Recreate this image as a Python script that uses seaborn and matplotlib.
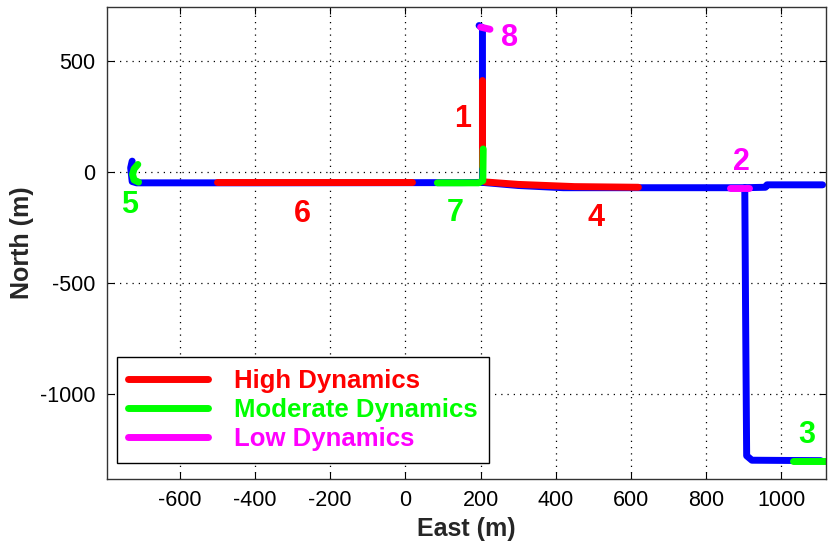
import numpy as np
import pandas as pd
import seaborn as sns
from matplotlib import pyplot as plt
from matplotlib.lines import Line2D

# trajectory (blue), east / north in metres
north_branch_east = [196, 205, 205, 205, 150, -400, -715, -727, -731, -727]
north_branch_north = [662, 652, 300, -46, -47, -48, -48, -42, 20, 50]
east_branch_east = [205, 300, 420, 900, 958, 962, 1110]
east_branch_north = [-46, -60, -70, -70, -68, -57, -57]
south_branch_east = [903, 905, 908, 922, 1105]
south_branch_north = [-70, -600, -1280, -1300, -1302]

# high dynamics (red)
high_1_east = [203, 203]
high_1_north = [415, 30]
high_4_east = [212, 300, 450, 620]
high_4_north = [-44, -55, -65, -68]
high_6_east = [-500, 18]
high_6_north = [-46, -46]

# moderate dynamics (green)
mod_7_east = [85, 195, 206, 207]
mod_7_north = [-48, -48, -38, 105]
mod_5_east = [-712, -722, -726, -722, -710]
mod_5_north = [35, 15, -10, -35, -45]
mod_3_east = [1032, 1118]
mod_3_north = [-1302, -1302]

# low dynamics (magenta)
low_8_east = [200, 225]
low_8_north = [655, 645]
low_2_east = [865, 915]
low_2_north = [-72, -72]

# segment labels
label_text = ["1", "2", "3", "4", "5", "6", "7", "8"]
label_east = [152, 894, 1069, 508, -734, -274, 133, 277]
label_north = [240, 45, -1185, -205, -150, -188, -182, 605]
label_color = ["red", "magenta", "lime", "red", "lime", "red", "lime", "magenta"]

legend_names = ["High Dynamics", "Moderate Dynamics", "Low Dynamics"]
legend_colors = ["red", "lime", "magenta"]

sns.set_style("white")
plt.rcParams["font.family"] = ["Liberation Sans", "DejaVu Sans"]
plt.rcParams["axes.unicode_minus"] = False

fig, ax = plt.subplots(figsize=(8.33, 5.5), dpi=100)
fig.subplots_adjust(left=0.128, right=0.992, top=0.987, bottom=0.129)


def draw(east, north, color):
    df = pd.DataFrame({"east": east, "north": north})
    sns.lineplot(data=df, x="east", y="north", sort=False, estimator=None,
                 color=color, linewidth=5, ax=ax,
                 solid_capstyle="round", solid_joinstyle="round")


blue = "#0000ff"
draw(north_branch_east, north_branch_north, blue)
draw(east_branch_east, east_branch_north, blue)
draw(south_branch_east, south_branch_north, blue)

draw(high_1_east, high_1_north, "red")
draw(high_4_east, high_4_north, "red")
draw(high_6_east, high_6_north, "red")

draw(mod_7_east, mod_7_north, "lime")
draw(mod_5_east, mod_5_north, "lime")
draw(mod_3_east, mod_3_north, "lime")

draw(low_8_east, low_8_north, "magenta")
draw(low_2_east, low_2_north, "magenta")

for t, e, n, c in zip(label_text, label_east, label_north, label_color):
    ax.text(e, n, t, color=c, fontsize=22, fontweight="bold",
            ha="center", va="center")

ax.set_xlim(-795, 1120)
ax.set_ylim(-1385, 745)
ax.set_xticks(np.arange(-600, 1001, 200))
ax.set_yticks([-1000, -500, 0, 500])
ax.grid(True, linestyle=(0, (1, 4)), color="black", linewidth=0.9)
ax.tick_params(direction="in", length=5, labelsize=15.5, colors="black",
               top=True, right=True, bottom=True, left=True, pad=8)
for s in ax.spines.values():
    s.set_color("#333333")
    s.set_linewidth(1)

ax.set_xlabel("East (m)", fontsize=18, fontweight="bold", labelpad=4)
ax.set_ylabel("North (m)", fontsize=18, fontweight="bold", labelpad=4)

handles = [Line2D([], [], color=c, linewidth=5) for c in legend_colors]
leg = ax.legend(handles, legend_names, loc="lower left",
                bbox_to_anchor=(0.014, 0.035), fancybox=False,
                edgecolor="black", framealpha=1, handlelength=3.1,
                handletextpad=1.0, labelspacing=0.2, borderpad=0.45,
                borderaxespad=0, prop={"size": 18.5, "weight": "bold"})
leg.get_frame().set_linewidth(1)
for txt, c in zip(leg.get_texts(), legend_colors):
    txt.set_color(c)

plt.savefig("out.png", dpi=100)
